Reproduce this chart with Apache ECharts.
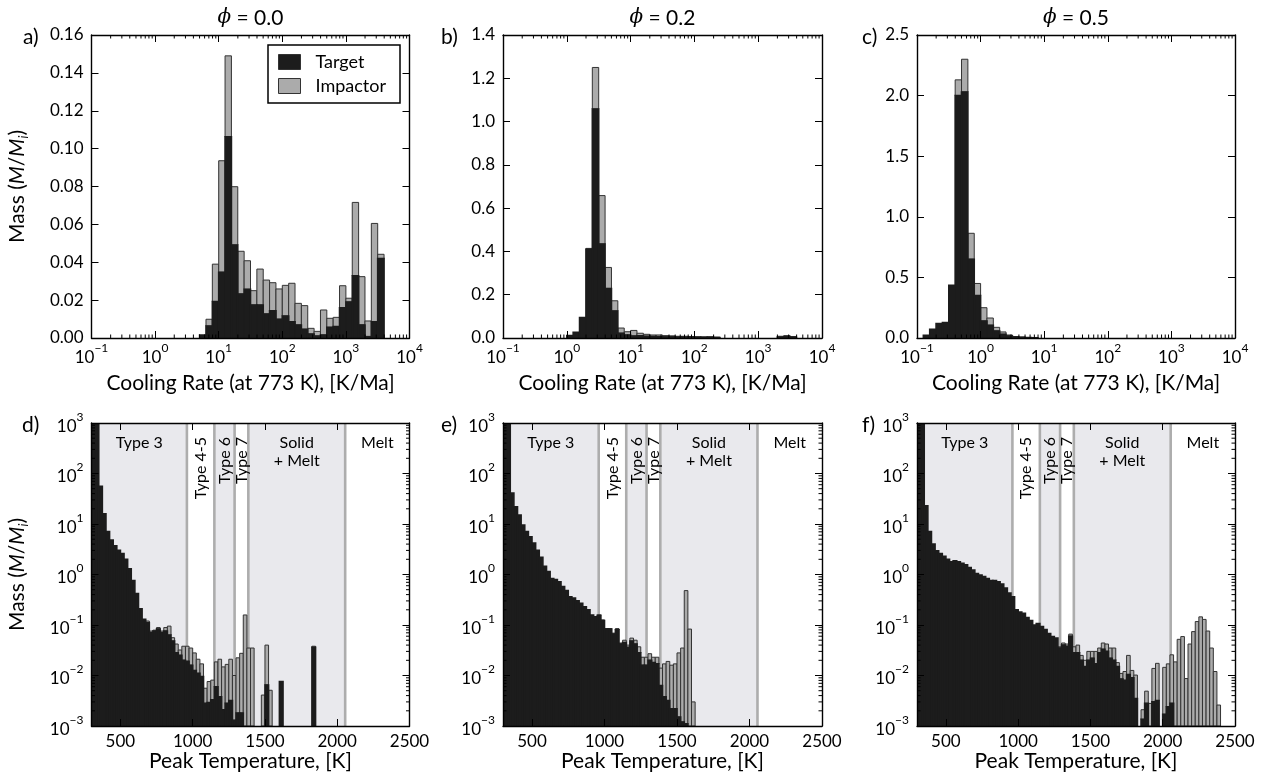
<!DOCTYPE html>
<html>
<head>
<meta charset="utf-8">
<script src="https://cdn.jsdelivr.net/npm/echarts@6.0.0/dist/echarts.min.js"></script>
<style>
html,body{margin:0;padding:0;background:#fff;}
#chart{width:1264px;height:784px;}
</style>
</head>
<body>
<div id="chart"></div>
<script>
// ================= DATA =================
const phiValues = ['0.0', '0.2', '0.5'];
const panelLetters = ['a)', 'b)', 'c)', 'd)', 'e)', 'f)'];
const coolingAxisTitle = 'Cooling Rate (at 773 K), [K/Ma]';
const peakAxisTitle = 'Peak Temperature, [K]';
const topYMax = [0.16, 1.4, 2.5];
const topYStep = [0.02, 0.2, 0.5];
const topYDecimals = [2, 1, 1];

// cooling-rate histograms: bin left edge as log10(K/Ma), bins 0.1 dex wide
const coolBinWidthDex = 0.1;
const aBinLog = [0.7,0.8,0.9,1.0,1.1,1.2,1.3,1.4,1.5,1.6,1.7,1.8,1.9,2.0,2.1,2.2,2.3,2.4,2.5,2.6,2.7,2.8,2.9,3.0,3.1,3.2,3.3,3.4,3.5];
const aTarget   = [0.0015,0.0063,0.0192,0.0347,0.1063,0.0491,0.0232,0.0257,0.0174,0.0174,0.0127,0.0144,0.0099,0.0116,0.0086,0.0069,0.0046,0.0021,0.0010,0.0016,0.0056,0.0060,0.0160,0.0190,0.0329,0.0069,0.0007,0.0086,0.0420];
const aImpactor = [0,0.0036,0.0198,0.0589,0.0427,0.0308,0.0226,0.0151,0.0076,0.0190,0.0179,0.0148,0.0160,0.0162,0.0203,0.0114,0.0125,0.0030,0.0025,0.0132,0.0048,0.0049,0.0116,0.0020,0.0387,0.0255,0.0083,0.0519,0.0022];

const bBinLog = [0.0,0.1,0.2,0.3,0.4,0.5,0.6,0.7,0.8,0.9,1.0,1.1,1.2,1.3,1.4,1.5,1.6,1.7,1.8,1.9,2.0,2.1,2.2,2.3,3.3,3.4,3.5];
const bTarget   = [0.011,0.026,0.094,0.410,1.058,0.434,0.229,0.125,0.022,0.014,0.009,0.010,0.008,0.007,0.006,0.005,0.005,0.004,0.004,0.004,0.003,0.003,0.003,0.002,0.004,0.006,0.003];
const bImpactor = [0,0,0,0.004,0.192,0.224,0.097,0.047,0.024,0.015,0.026,0.012,0.009,0.007,0.008,0.006,0.005,0.004,0.004,0.003,0.003,0.002,0.003,0.002,0.004,0.005,0.004];

const cBinLog = [-0.9,-0.8,-0.7,-0.6,-0.5,-0.4,-0.3,-0.2,-0.1,0.0,0.1,0.2,0.3,0.4,0.5,0.6,0.7,0.8];
const cTarget   = [0.022,0.072,0.12,0.127,0.435,2.0,2.03,0.65,0.35,0.14,0.105,0.058,0.03,0.016,0.008,0.005,0.003,0.002];
const cImpactor = [0,0,0,0,0,0.13,0.27,0.214,0.10,0.11,0.06,0.03,0.02,0.009,0.004,0.003,0.002,0.001];

// peak-temperature histograms: bins of 25 K starting at 300 K
const tempBinStart = 300;
const tempBinWidth = 25;
const dTarget = [
2000,1100,56,16,7.1,4.8,3.7,3.0,2.6,2.0,
1.3,0.76,0.42,0.21,0.13,0.11,0.071,0.076,0.083,0.071,
0.076,0.063,0.048,0.028,0.025,0.020,0.019,0.016,0.0126,0.011,
0.0095,0.0028,0.0029,0.0033,0.006,0.0038,0.0021,0.0028,0.0032,0.0013,
0.0018,0.0018,null,null,null,null,null,null,0.0065,null,
null,null,0.0076,null,null,null,null,null,null,null,
null,0.036];
const dTotal = [   // target + impactor
2000,1100,56,16,7.1,4.8,3.7,3.0,2.6,2.0,
1.3,0.76,0.42,0.21,0.13,0.12,0.076,0.079,0.089,0.076,
0.089,0.095,0.056,0.042,0.032,0.038,0.038,0.035,0.028,0.021,
0.017,0.0056,0.0076,0.0081,0.0186,0.021,0.0148,0.0166,0.021,0.010,
0.0224,0.0275,0.158,0.035,0.035,null,null,0.0041,0.040,0.0051,
null,null,0.0076,null,null,null,null,null,null,null,
null,0.038];

const eTarget = [
2000,1100,41,22,15,9.5,7.1,5.6,4.2,3.0,
2.2,1.45,1.15,0.83,0.79,0.72,0.58,0.48,0.36,0.34,
0.30,0.27,0.23,0.20,0.158,0.145,0.155,0.123,0.083,0.083,
0.066,0.080,0.042,0.045,0.036,0.048,0.042,0.028,0.016,0.016,
0.020,0.018,0.017,0.0063,0.0038,0.0032,0.0022,0.0022,0.0015,0.0012,
0.0011];
const eTotal = [
2000,1100,41,22,15,9.5,7.1,5.6,4.2,3.0,
2.2,1.45,1.15,0.83,0.79,0.72,0.58,0.48,0.36,0.34,
0.30,0.27,0.23,0.20,0.158,0.145,0.158,0.126,0.085,0.085,
0.069,0.085,0.044,0.05,0.04,0.055,0.05,0.037,0.023,0.023,
0.027,0.023,0.023,0.014,0.017,0.019,0.016,0.017,0.028,0.035,
0.48,0.083,0.003];

const fTarget = [
2000,1100,23,7.1,4.0,2.95,2.6,2.3,2.0,1.78,
1.86,1.78,1.66,1.55,1.38,1.23,1.05,0.98,0.91,0.83,
0.76,0.76,0.72,0.65,0.54,0.43,0.36,0.20,0.18,0.17,
0.14,0.123,0.10,0.107,0.093,0.081,0.068,0.059,0.055,0.035,
0.040,0.038,0.060,0.028,0.028,0.020,0.015,0.020,0.022,0.017,
0.028,0.033,0.030,0.022,0.020,0.015,0.0085,0.008,0.0105,0.009,
0.0035,null,0.00135,0.0028,null,0.003,0.0032,null,0.0017,0.0024,
0.0028];
const fTotal = [
2000,1100,23,7.1,4.0,2.95,2.6,2.3,2.0,1.78,
1.86,1.78,1.66,1.55,1.38,1.23,1.05,0.98,0.91,0.83,
0.76,0.76,0.72,0.65,0.54,0.43,0.36,0.20,0.18,0.17,
0.14,0.123,0.10,0.107,0.093,0.081,0.068,0.059,0.055,0.037,
0.044,0.042,0.066,0.037,0.040,0.025,0.020,0.030,0.030,0.030,
0.035,0.044,0.042,0.035,0.035,0.018,0.011,0.012,0.025,0.0126,
0.0102,null,0.0021,0.0049,0.0028,0.0138,0.0174,null,0.0145,0.017,
0.0257,0.0186,0.052,0.059,0.0087,0.042,0.074,0.117,0.145,0.129,
0.076,0.035,0.012,0.0026];

// petrologic-type regions (K)
const regionEdges = [300, 960, 1150, 1290, 1385, 2055, 2500];
const regionNames = ['Type 3', 'Type 4-5', 'Type 6', 'Type 7', 'Solid\n+ Melt', 'Melt'];
const regionShaded = [true, false, true, false, true, false];
const regionVertical = [false, true, true, true, false, false];

// ================= LAYOUT / STYLE =================
const FONT = 'Lato, "DejaVu Sans", sans-serif';
const TARGET_COLOR = '#1c1c1c';
const IMPACTOR_COLOR = '#ababab';
const EDGE_COLOR = '#333333';
const SHADE_COLOR = '#E9E9ED';
const LINE_COLOR = '#ADADAD';
const LOG_MIN = 0.001, LOG_MAX = 1000;

const gridRects = [
  {left: 91.5, top: 35, width: 318, height: 303},
  {left: 503, top: 35, width: 319, height: 303},
  {left: 917, top: 35, width: 318, height: 303},
  {left: 91.5, top: 423, width: 318, height: 303},
  {left: 503, top: 423, width: 319, height: 303},
  {left: 917, top: 423, width: 318, height: 303}
];
const letterPos = [[23, 37], [441, 37], [862, 37], [22, 425], [441, 425], [862, 425]];

function supLabel(v) {
  const e = Math.round(Math.log10(v));
  return '{b|10}{s|' + (e < 0 ? '\u2212' + (-e) : e) + '}';
}
const supRich = {
  b: {fontFamily: FONT, fontSize: 17, color: '#000', lineHeight: 24, verticalAlign: 'bottom'},
  s: {fontFamily: FONT, fontSize: 12, color: '#000', lineHeight: 12, verticalAlign: 'top'}
};

const axisLineStyle = {show: true, onZero: false, lineStyle: {color: '#000', width: 1.4}};
const tickStyle = {show: true, inside: true, length: 7, lineStyle: {color: '#000', width: 1}};
const labelBase = {color: '#000', fontFamily: FONT, fontSize: 17};

const massName = 'Mass ({i|M}/{i|M}{sub|i})';
const massNameStyle = {
  color: '#000', fontFamily: FONT, fontSize: 21, lineHeight: 26,
  rich: {
    i: {fontFamily: FONT, fontSize: 21, fontStyle: 'italic', color: '#000', lineHeight: 26},
    sub: {fontFamily: FONT, fontSize: 13, fontStyle: 'italic', color: '#000', lineHeight: 13, verticalAlign: 'bottom'}
  }
};

const xAxes = [], yAxes = [];
for (let i = 0; i < 6; i++) {
  const isTop = i < 3;
  const xBase = isTop
    ? {type: 'log', logBase: 10, min: 0.1, max: 10000, splitNumber: 5}
    : {type: 'value', min: 300, max: 2500, splitNumber: 4};
  xAxes.push(Object.assign({}, xBase, {
    gridIndex: i, position: 'bottom', z: 10,
    axisLine: axisLineStyle, axisTick: tickStyle, splitLine: {show: false},
    minorTick: {show: false}, minorSplitLine: {show: false},
    axisLabel: Object.assign({}, labelBase, isTop
      ? {margin: 4, formatter: supLabel, rich: supRich}
      : {margin: 7, showMinLabel: false, formatter: v => (Math.abs(v % 500) < 1e-6 ? String(Math.round(v)) : '')}),
    name: isTop ? coolingAxisTitle : peakAxisTitle,
    nameLocation: 'middle', nameGap: isTop ? 35 : 25,
    nameTextStyle: {color: '#000', fontFamily: FONT, fontSize: 21}
  }));
  xAxes.push(Object.assign({}, xBase, {
    gridIndex: i, position: 'top', z: 10,
    axisLine: axisLineStyle, axisTick: tickStyle, splitLine: {show: false},
    axisLabel: {show: false}
  }));

  const yBase = isTop
    ? {type: 'value', min: 0, max: topYMax[i], interval: topYStep[i]}
    : {type: 'log', logBase: 10, min: LOG_MIN, max: LOG_MAX, splitNumber: 6};
  const yLeft = Object.assign({}, yBase, {
    gridIndex: i, position: 'left', z: 10,
    axisLine: axisLineStyle, axisTick: tickStyle, splitLine: {show: false},
    minorTick: {show: false}, minorSplitLine: {show: false},
    axisLabel: Object.assign({}, labelBase, isTop
      ? {margin: 8, formatter: v => v.toFixed(topYDecimals[i])}
      : {margin: 8, formatter: supLabel, rich: supRich})
  });
  if (i === 0 || i === 3) {
    Object.assign(yLeft, {
      name: massName, nameLocation: 'middle', nameRotate: 90, nameGap: 61,
      nameTextStyle: massNameStyle
    });
  }
  yAxes.push(yLeft);
  yAxes.push(Object.assign({}, yBase, {
    gridIndex: i, position: 'right', z: 10,
    axisLine: axisLineStyle, axisTick: tickStyle, splitLine: {show: false},
    axisLabel: {show: false}
  }));
}

// ---------- histogram items ----------
function coolItems(binLog, target, impactor, which) {
  const out = [];
  for (let k = 0; k < binLog.length; k++) {
    const lo = Math.pow(10, binLog[k]);
    const hi = Math.pow(10, binLog[k] + coolBinWidthDex);
    if (which === 'target') {
      if (target[k] > 0) out.push([lo, hi, 0, target[k]]);
    } else {
      if (impactor[k] > 0) out.push([lo, hi, target[k], target[k] + impactor[k]]);
    }
  }
  return out;
}
function tempItems(target, total, which) {
  const out = [];
  for (let k = 0; k < total.length; k++) {
    const lo = tempBinStart + k * tempBinWidth, hi = lo + tempBinWidth;
    const t = target[k], tot = total[k];
    if (which === 'target') {
      if (t != null) out.push([lo, hi, LOG_MIN, t]);
    } else {
      if (tot != null && (t == null || tot > t)) out.push([lo, hi, t != null ? t : LOG_MIN, tot]);
    }
  }
  return out;
}

function makeBarRender(strokeColor, strokeWidth) {
  return function (params, api) {
    const p0 = api.coord([api.value(0), api.value(2)]);
    const p1 = api.coord([api.value(1), api.value(3)]);
    return {
      type: 'rect',
      shape: {x: p0[0], y: p1[1], width: p1[0] - p0[0], height: p0[1] - p1[1]},
      style: {fill: api.visual('color'), stroke: strokeColor, lineWidth: strokeWidth}
    };
  };
}

function histSeries(i, name, color, stroke, strokeWidth, data) {
  return {
    type: 'custom', name: name, xAxisIndex: 2 * i, yAxisIndex: 2 * i,
    z: 3, clip: true, silent: true, animation: false,
    itemStyle: {color: color, borderColor: EDGE_COLOR, borderWidth: 1},
    dimensions: ['x0', 'x1', 'y0', 'y1'],
    encode: {x: [0, 1], y: [2, 3]},
    renderItem: makeBarRender(stroke, strokeWidth),
    data: data
  };
}

function textStyle(obj) {
  const s = Object.assign({fontFamily: FONT, fill: '#000', textFill: '#000'}, obj);
  if (obj.align) s.textAlign = obj.align;
  if (obj.verticalAlign) s.textVerticalAlign = obj.verticalAlign;
  return s;
}

// region shading / lines / labels for bottom panels
function regionSeries(i) {
  const data = [];
  for (let r = 0; r < regionNames.length; r++) data.push([regionEdges[r], regionEdges[r + 1], r]);
  return {
    type: 'custom', xAxisIndex: 2 * i, yAxisIndex: 2 * i, z: 1, silent: true, animation: false,
    encode: {x: [0, 1]},
    renderItem: function (params, api) {
      const lo = api.value(0), hi = api.value(1), r = api.value(2);
      const p0 = api.coord([lo, LOG_MAX]), p1 = api.coord([hi, LOG_MIN]);
      const children = [];
      if (regionShaded[r]) {
        children.push({type: 'rect', shape: {x: p0[0], y: p0[1], width: p1[0] - p0[0], height: p1[1] - p0[1]},
          style: {fill: SHADE_COLOR}});
      }
      if (r > 0) {
        children.push({type: 'line', shape: {x1: p0[0], y1: p0[1], x2: p0[0], y2: p1[1]},
          style: {stroke: LINE_COLOR, lineWidth: 2.6}});
      }
      const xc = (p0[0] + p1[0]) / 2;
      if (regionVertical[r]) {
        children.push({type: 'text', x: xc, y: p0[1] + 14, rotation: Math.PI / 2, z2: 5,
          style: textStyle({text: regionNames[r], fontSize: 16, align: 'right', verticalAlign: 'middle'})});
      } else {
        children.push({type: 'text', x: xc, y: p0[1] + 11, z2: 5,
          style: textStyle({text: regionNames[r], fontSize: 16, lineHeight: 18, align: 'center', verticalAlign: 'top'})});
      }
      return {type: 'group', children: children};
    },
    data: data
  };
}

// minor ticks for log axes (2..9 x 10^n)
function minorTickSeries(i) {
  const isTop = i < 3;
  return {
    type: 'custom', xAxisIndex: 2 * i, yAxisIndex: 2 * i, z: 12, silent: true, animation: false,
    renderItem: function (params, api) {
      const children = [];
      const L = 3.5;
      if (isTop) {
        const yb = api.coord([1, 0])[1], yt = api.coord([1, topYMax[i]])[1];
        for (let e = -1; e < 4; e++) for (let k = 2; k <= 9; k++) {
          const x = api.coord([k * Math.pow(10, e), 0])[0];
          children.push({type: 'line', shape: {x1: x, y1: yb, x2: x, y2: yb - L}, style: {stroke: '#000', lineWidth: 1}});
          children.push({type: 'line', shape: {x1: x, y1: yt, x2: x, y2: yt + L}, style: {stroke: '#000', lineWidth: 1}});
        }
      } else {
        const xl = api.coord([300, 1])[0], xr = api.coord([2500, 1])[0];
        for (let e = -3; e < 3; e++) for (let k = 2; k <= 9; k++) {
          const y = api.coord([1000, k * Math.pow(10, e)])[1];
          children.push({type: 'line', shape: {x1: xl, y1: y, x2: xl + L, y2: y}, style: {stroke: '#000', lineWidth: 1}});
          children.push({type: 'line', shape: {x1: xr, y1: y, x2: xr - L, y2: y}, style: {stroke: '#000', lineWidth: 1}});
        }
      }
      return {type: 'group', children: children};
    },
    data: [isTop ? [1, 0.01] : [1000, 1]]
  };
}

const coolSets = [
  [aBinLog, aTarget, aImpactor],
  [bBinLog, bTarget, bImpactor],
  [cBinLog, cTarget, cImpactor]
];
const tempSets = [[dTarget, dTotal], [eTarget, eTotal], [fTarget, fTotal]];

const series = [];
for (let i = 0; i < 6; i++) {
  if (i < 3) {
    const s = coolSets[i];
    series.push(histSeries(i, 'Impactor', IMPACTOR_COLOR, EDGE_COLOR, 1, coolItems(s[0], s[1], s[2], 'impactor')));
    series.push(histSeries(i, 'Target', TARGET_COLOR, TARGET_COLOR, 1.6, coolItems(s[0], s[1], s[2], 'target')));
  } else {
    const s = tempSets[i - 3];
    series.push(regionSeries(i));
    series.push(histSeries(i, 'Impactor', IMPACTOR_COLOR, EDGE_COLOR, 1, tempItems(s[0], s[1], 'impactor')));
    series.push(histSeries(i, 'Target', TARGET_COLOR, TARGET_COLOR, 1.6, tempItems(s[0], s[1], 'target')));
  }
  series.push(minorTickSeries(i));
}

// titles and panel letters
const graphic = [];
for (let i = 0; i < 3; i++) {
  const g = gridRects[i];
  graphic.push({
    type: 'text', x: g.left + g.width / 2, y: 18, z: 20,
    style: textStyle({
      text: '{m|\u03D5} = ' + phiValues[i], fontSize: 21, align: 'center', verticalAlign: 'middle',
      rich: {m: {fontFamily: '"DejaVu Serif", serif', fontStyle: 'italic', fontSize: 20, fill: '#000'}}
    })
  });
}
for (let i = 0; i < 6; i++) {
  graphic.push({
    type: 'text', x: letterPos[i][0], y: letterPos[i][1], z: 20,
    style: textStyle({text: panelLetters[i], fontSize: 21, align: 'left', verticalAlign: 'middle'})
  });
}

const option = {
  animation: false,
  backgroundColor: '#fff',
  textStyle: {fontFamily: FONT},
  grid: gridRects.map(r => Object.assign({containLabel: false, outerBoundsMode: 'none'}, r)),
  xAxis: xAxes,
  yAxis: yAxes,
  legend: {
    data: ['Target', 'Impactor'], orient: 'vertical', left: 268, top: 45,
    itemWidth: 22, itemHeight: 15, itemGap: 6, icon: 'rect', selectedMode: false,
    textStyle: {fontFamily: FONT, fontSize: 18, color: '#000', padding: [0, 0, 0, 10]},
    itemStyle: {borderColor: EDGE_COLOR, borderWidth: 1},
    borderColor: '#000', borderWidth: 1.5, borderRadius: 0, backgroundColor: '#fff',
    padding: [8, 14, 8, 10], z: 30
  },
  graphic: graphic,
  series: series
};

const chart = echarts.init(document.getElementById('chart'), null, {renderer: 'canvas'});
chart.setOption(option);
</script>
</body>
</html>
